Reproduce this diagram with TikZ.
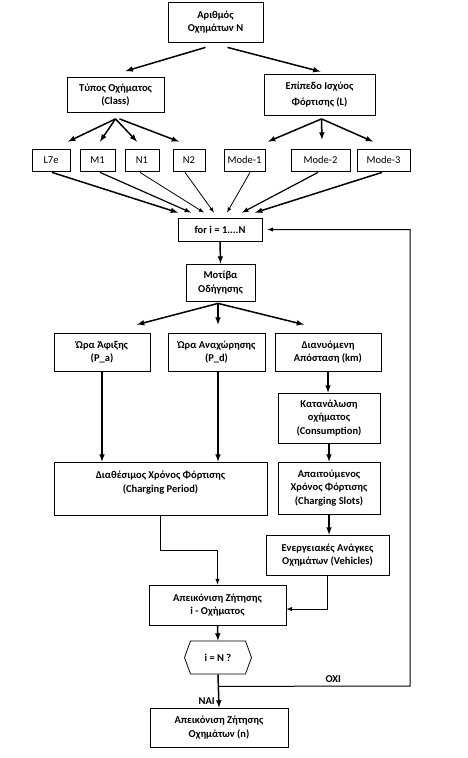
\documentclass[tikz,border=0pt]{standalone}
\usepackage{fontspec}
\setmainfont{Carlito}
\usetikzlibrary{shapes.symbols}

\tikzset{
    box/.style={shape=rectangle, draw, line width=0.8pt, align=center, inner sep=1pt, font=\fontsize{10.5}{13.5}\selectfont\bfseries},
    tag/.style={shape=rectangle, draw, line width=0.8pt, minimum height=22pt, inner sep=1pt, font=\fontsize{10.5}{12}\selectfont},
    arr/.style={-latex, line width=1.5pt},
    thinarr/.style={-latex, line width=1pt},
}

\begin{document}
\begin{tikzpicture}[x=1pt, y=-1pt]
    	\useasboundingbox (0,0) rectangle (467,758);
    	% Boxes:
    	\node[box, minimum width=95pt, minimum height=40pt] (count) at (215.5, 22) {Αριθμός\\Οχημάτων Ν};
    	\node[box, minimum width=97pt, minimum height=35pt] (class) at (115.5, 95) {Τύπος Οχήματος\\(Class)};
    	\node[box, minimum width=111pt, minimum height=41pt, font=\fontsize{10.5}{16}\selectfont\bfseries] (level) at (319.5, 95) {Επίπεδο Ισχύος\\Φόρτισης (L)};
    	\foreach \name/\x/\w/\txt in {l7e/51/38/L7e, m1/97.5/35/M1, n1/142/34/N1, n2/189/32/N2, mode1/244.5/41/Mode-1, mode2/320.5/59/Mode-2, mode3/383.5/53/Mode-3}
    		\node[tag, minimum width=\w pt] (\name) at (\x, 160) {\txt};
    	\node[box, minimum width=84pt, minimum height=23pt] (loop) at (220, 229.5) {for i = 1....N};
    	\node[box, minimum width=69pt, minimum height=37pt] (motif) at (220.5, 282.5) {Μοτίβα\\Οδήγησης};
    	\node[box, minimum width=96pt, minimum height=38pt] (arrival) at (102, 352) {Ώρα Άφιξης\\(P\_a)};
    	\node[box, minimum width=97pt, minimum height=38pt] (departure) at (216.5, 352) {Ώρα Αναχώρησης\\(P\_d)};
    	\node[box, minimum width=106pt, minimum height=38pt] (distance) at (328, 352) {Διανυόμενη\\Απόσταση (km)};
    	\node[box, minimum width=102pt, minimum height=50pt] (consumption) at (329, 418) {Κατανάλωση\\οχήματος\\(Consumption)};
    	\node[box, minimum width=213pt, minimum height=53pt] (period) at (160.5, 488.5) {Διαθέσιμος Χρόνος Φόρτισης\\(Charging Period)\\\mbox{}};
    	\node[box, minimum width=102pt, minimum height=52pt] (slots) at (329, 488) {Απαιτούμενος\\Χρόνος Φόρτισης\\(Charging Slots)};
    	\node[box, minimum width=123pt, minimum height=40pt] (needs) at (327.5, 555) {Ενεργειακές Ανάγκες\\Οχημάτων (Vehicles)};
    	\node[box, minimum width=137pt, minimum height=40pt] (demand) at (217.5, 605) {Απεικόνιση Ζήτησης\\i - Οχήματος};
    	\node[box, shape=signal, signal to=west and east, signal pointer angle=140, minimum width=67pt, minimum height=33pt] (check) at (218, 657.5) {i = N ?};
    	\node[box, minimum width=138pt, minimum height=39pt] (total) at (219, 727.5) {Απεικόνιση Ζήτησης\\Οχημάτων (n)};
    	% Arrows, top part:
    	\draw[arr] ([xshift=-10pt, yshift=-5pt]count.south) -- ([xshift=10pt, yshift=6pt]class.north);
    	\draw[arr] ([xshift=12pt, yshift=-5pt]count.south) -- ([xshift=1pt, yshift=2.5pt]level.north);
    	\coordinate (cs) at ([yshift=-6pt]class.south);
    	\draw[arr] (cs) -- ([xshift=17pt, yshift=7pt]l7e.north);
    	\draw[arr] (cs) -- ([xshift=2.5pt, yshift=7pt]m1.north);
    	\draw[arr] (cs) -- ([xshift=-5pt, yshift=7pt]n1.north);
    	\draw[arr] ([xshift=4pt]cs) -- ([xshift=-10pt, yshift=7pt]n2.north);
    	\coordinate (ls) at ([xshift=2pt, yshift=-3pt]level.south);
    	\draw[arr] (ls) -- ([xshift=23.5pt, yshift=7pt]mode1.north);
    	\draw[arr] (ls) -- ([xshift=1.5pt, yshift=9pt]mode2.north);
    	\draw[arr] (ls) -- ([xshift=-10.5pt, yshift=7pt]mode3.north);
    	\foreach \name/\a/\b/\lw in {l7e/1/-42/1.5, m1/2.5/-29/1.2, n1/-2/-16/0.8, n2/-4/-6/0.8, mode1/5.5/7/0.8, mode2/-2.5/22/1.2, mode3/-1.5/35/1.5}
    		\draw[-latex, line width=\lw pt] ([xshift=\a pt, yshift=-1pt]\name.south) -- ([xshift=\b pt, yshift=5pt]loop.north);
    	% Arrows, middle part:
    	\draw[arr] (loop.south) -- (motif.north);
    	\coordinate (ms) at ([xshift=-2.5pt, yshift=-2pt]motif.south);
    	\draw[arr] (ms) -- ([xshift=35pt, yshift=8pt]arrival.north);
    	\draw[arr] (ms) -- ([xshift=1.5pt, yshift=8pt]departure.north);
    	\draw[arr] (ms) -- ([xshift=-24pt, yshift=8pt]distance.north);
    	\draw[arr] (arrival.south) -- (arrival.south |- period.north);
    	\draw[arr] ([xshift=1.5pt]departure.south) -- ([xshift=1.5pt]departure.south |- period.north);
    	\draw[arr] (distance.south) -- (distance.south |- consumption.north);
    	\draw[arr] (consumption.south) -- (slots.north);
    	\draw[arr] (slots.south) -- (slots.south |- needs.north);
    	% Arrows, bottom part:
    	\draw[thinarr] (period.south) |- ([yshift=34pt]demand.north) -- (demand.north);
    	\draw[thinarr] (needs.south) |- ([yshift=-4pt]demand.east);
    	\draw[arr] (demand.south) -- (check.north);
    	\draw[arr] (check.south) -- node[pos=0.8, left, font=\fontsize{10.5}{12}\selectfont\bfseries]{ΝΑΙ} (total.north);
    	\coordinate (br) at ([yshift=-12pt]check.south);
    	\coordinate (edge) at (410, 686);
    	\draw[thinarr] (br) -- node[pos=0.6, above, font=\fontsize{10.5}{12}\selectfont\bfseries]{ΟΧΙ} (edge) |- ([xshift=5pt]loop.east);
    \end{tikzpicture}
\end{document}
